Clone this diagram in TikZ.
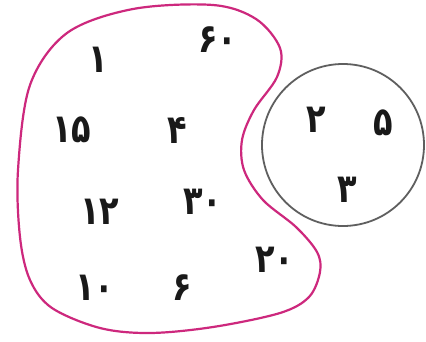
\documentclass[tikz,border=0pt]{standalone}
\usepackage{fontspec}
\newfontfamily\fa[Script=Arabic]{DejaVu Sans}
\definecolor{setpink}{RGB}{205,40,125}
\definecolor{setgray}{RGB}{95,95,95}
\begin{document}
\begin{tikzpicture}[x=1pt,y=-1pt,
  num/.style={font=\fa\bfseries\fontsize{40}{40}\selectfont, inner sep=0pt, text=black!90, xscale=0.8}]
\useasboundingbox[fill=white] (0,0) rectangle (426,341);
\draw[setpink, line width=2.2pt] plot[smooth cycle, tension=0.55] coordinates {
 (18,170) (30,85) (67,33) (133,9) (213,5) (256,19) (280,48) (277,77) (254,110)
 (242,140) (244,170) (263,200) (296,227) (317,252) (320,272) (309,297) (280,313)
 (213,327) (150,333) (100,328) (52,308) (30,280) (20,237)};
\node[draw=setgray, line width=1.8pt, circle, minimum size=162pt, inner sep=0pt] (B) at (343,145) {};
\node[num] (n1) at (98,60) {۱};
\node[num] (n60) at (218,40) {۶۰};
\node[num] (n15) at (72,130) {۱۵};
\node[num] (n4) at (177,130) {۴};
\node[num] (n12) at (100,212) {۱۲};
\node[num] (n30) at (203,202) {۳۰};
\node[num] (n20) at (275,260) {۲۰};
\node[num] (n10) at (95,288) {۱۰};
\node[num] (n6) at (182,288) {۶};
\node[num] (n2) at (316,120) {۲};
\node[num] (n5) at (383,123) {۵};
\node[num] (n3) at (347,190) {۳};
\end{tikzpicture}
\end{document}
